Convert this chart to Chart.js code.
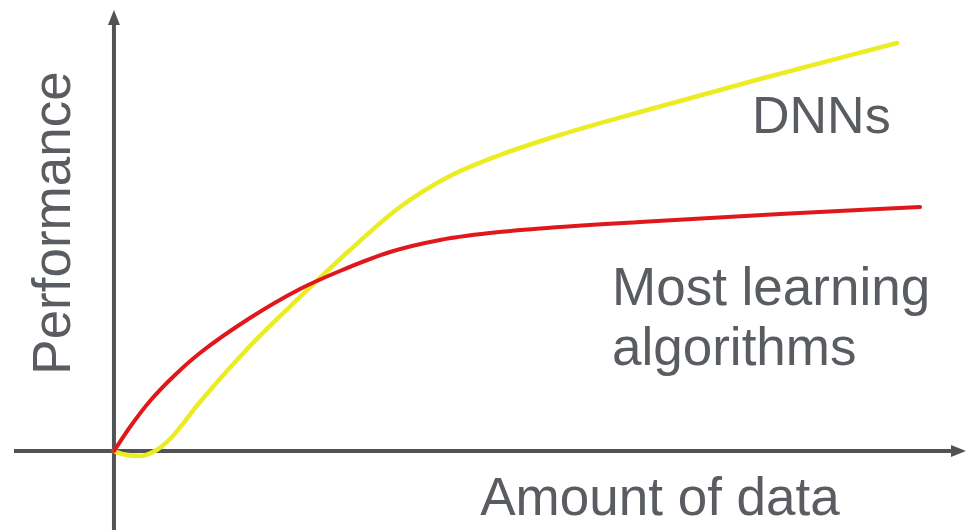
<!DOCTYPE html>
<html>
<head>
<meta charset="utf-8">
<script src="https://cdn.jsdelivr.net/npm/chart.js@4/dist/chart.umd.min.js"></script>
<style>
  html, body { margin: 0; padding: 0; background: #ffffff; }
  #wrap { width: 968px; height: 530px; }
</style>
</head>
<body>
<div id="wrap"><canvas id="c" width="968" height="530"></canvas></div>
<script>
// Amount of data (x) and performance (y), both in arbitrary units 0..100
const dnnAmount = [0, 1.36, 3.23, 5.09, 6.95, 10.67, 16.87, 23.08, 29.28, 35.48, 41.69, 47.89, 55.33, 65.26, 80.15, 97.15];
const dnnPerf   = [0, -0.86, -1.23, 0, 2.94, 12.01, 25.74, 37.75, 49.26, 59.80, 67.40, 72.55, 77.45, 83.09, 91.18, 100];

const mlaAmount = [0, 1.99, 4.47, 7.57, 10.67, 16.87, 23.08, 28.04, 34.24, 40.45, 46.65, 52.85, 65.26, 82.63, 100];
const mlaPerf   = [0, 5.88, 12.25, 18.63, 24.02, 32.60, 39.71, 44.12, 48.77, 51.72, 53.43, 54.53, 56.13, 58.09, 59.80];

const seriesNames = ['DNNs', 'Most learning algorithms'];
const axisTitles = { x: 'Amount of data', y: 'Performance' };

const toPoints = (xs, ys) => xs.map((x, i) => ({ x: x, y: ys[i] }));

const TEXT = '#595c60';
const AXIS = '#505356';
const FONT = '"Liberation Sans", Arial, sans-serif';

// Axes through the origin, with arrow heads, drawn beneath the curves
const crossAxes = {
  id: 'crossAxes',
  beforeDatasetsDraw(chart) {
    const { ctx, chartArea: a, scales } = chart;
    const ox = scales.x.getPixelForValue(0);
    const oy = scales.y.getPixelForValue(0);
    ctx.save();
    ctx.strokeStyle = AXIS;
    ctx.fillStyle = AXIS;
    ctx.lineWidth = 4;
    // horizontal axis
    ctx.beginPath();
    ctx.moveTo(a.left, oy);
    ctx.lineTo(a.right - 12, oy);
    ctx.stroke();
    ctx.beginPath();
    ctx.moveTo(a.right, oy);
    ctx.lineTo(a.right - 15, oy - 6);
    ctx.lineTo(a.right - 15, oy + 6);
    ctx.closePath();
    ctx.fill();
    // vertical axis
    ctx.beginPath();
    ctx.moveTo(ox, a.bottom);
    ctx.lineTo(ox, a.top + 12);
    ctx.stroke();
    ctx.beginPath();
    ctx.moveTo(ox, a.top);
    ctx.lineTo(ox - 6, a.top + 15);
    ctx.lineTo(ox + 6, a.top + 15);
    ctx.closePath();
    ctx.fill();
    ctx.restore();
  }
};

// Axis titles and series captions
const captions = {
  id: 'captions',
  afterDraw(chart) {
    const { ctx } = chart;
    ctx.save();
    ctx.fillStyle = TEXT;
    ctx.textBaseline = 'alphabetic';

    ctx.font = '53px ' + FONT;
    ctx.textAlign = 'center';
    ctx.fillText(axisTitles.x, 660, 515);

    ctx.save();
    ctx.translate(70, 223);
    ctx.rotate(-Math.PI / 2);
    ctx.fillText(axisTitles.y, 0, 0);
    ctx.restore();

    ctx.textAlign = 'left';
    ctx.font = '52px ' + FONT;
    ctx.fillText(seriesNames[0], 752, 133);

    ctx.font = '53px ' + FONT;
    const words = seriesNames[1].split(' ');
    ctx.fillText(words.slice(0, 2).join(' '), 612, 305);
    ctx.fillText(words.slice(2).join(' '), 612, 365);
    ctx.restore();
  }
};

new Chart(document.getElementById('c'), {
  type: 'scatter',
  data: {
    datasets: [
      {
        label: seriesNames[1],
        data: toPoints(mlaAmount, mlaPerf),
        showLine: true,
        borderColor: '#e0181c',
        borderWidth: 4,
        pointRadius: 0,
        cubicInterpolationMode: 'monotone',
        borderCapStyle: 'round',
        borderJoinStyle: 'round'
      },
      {
        label: seriesNames[0],
        data: toPoints(dnnAmount, dnnPerf),
        showLine: true,
        borderColor: '#ecec24',
        borderWidth: 4.5,
        pointRadius: 0,
        cubicInterpolationMode: 'monotone',
        borderCapStyle: 'round',
        borderJoinStyle: 'round'
      }
    ]
  },
  options: {
    responsive: false,
    animation: false,
    events: [],
    layout: { padding: { left: 14, right: 2, top: 10, bottom: 0 } },
    scales: {
      x: { type: 'linear', min: -12.4, max: 105.7, display: false },
      y: { type: 'linear', min: -19.36, max: 108.09, display: false }
    },
    plugins: {
      legend: { display: false },
      tooltip: { enabled: false }
    }
  },
  plugins: [crossAxes, captions]
});
</script>
</body>
</html>
